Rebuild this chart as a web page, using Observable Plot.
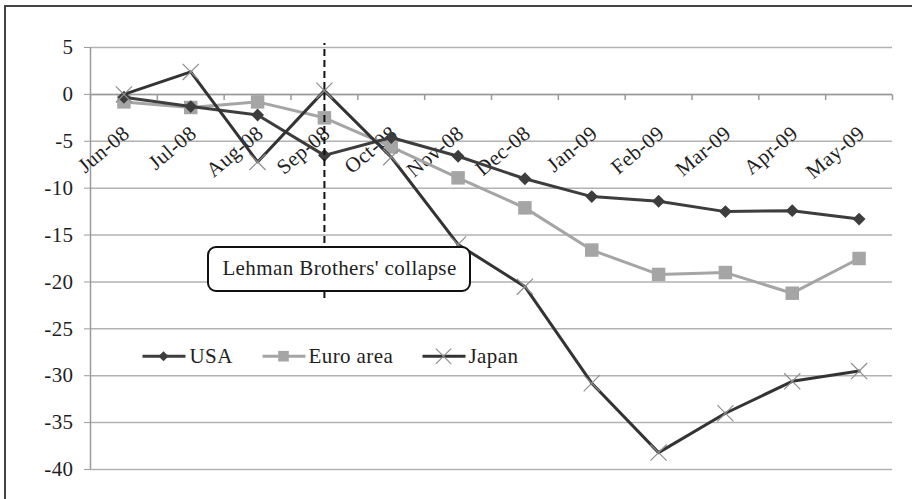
<!DOCTYPE html>
<html>
<head>
<meta charset="utf-8">
<script src="https://cdn.jsdelivr.net/npm/d3@7"></script>
<script src="https://cdn.jsdelivr.net/npm/@observablehq/plot@0.6"></script>
<style>
  html, body { margin: 0; padding: 0; background: #fff; }
  #wrap { position: relative; width: 912px; height: 499px; overflow: hidden; }
  #frame { position: absolute; left: 4px; top: 5px; right: -10px; bottom: -10px;
           border-left: 2px solid #454545; border-top: 2px solid #454545; pointer-events: none; }
  #wrap svg, #wrap svg text { font-family: "Liberation Serif", "DejaVu Serif", serif !important; letter-spacing: 0.4px; }
</style>
</head>
<body>
<div id="wrap"><div id="frame"></div></div>
<script>
const months = ["Jun-08","Jul-08","Aug-08","Sep-08","Oct-08","Nov-08","Dec-08","Jan-09","Feb-09","Mar-09","Apr-09","May-09"];
const usa   = [-0.3, -1.3, -2.2, -6.5, -4.6, -6.6, -9.0, -10.9, -11.4, -12.5, -12.4, -13.3];
const euro  = [-0.8, -1.4, -0.8, -2.5, -5.6, -8.9, -12.1, -16.6, -19.2, -19.0, -21.2, -17.5];
const japan = [0.0, 2.4, -7.2, 0.4, -6.7, -16.0, -20.5, -30.8, -38.2, -34.0, -30.6, -29.5];
const yTicks = [5, 0, -5, -10, -15, -20, -25, -30, -35, -40];
const seriesNames = ["USA", "Euro area", "Japan"];
const eventIndex = 3; // Sep-08
const eventLabel = "Lehman Brothers' collapse";

const W = 912, H = 499;
const mL = 90, mR = 20, mT = 47, mB = 30;
const xDom = [-0.5, months.length - 0.5], yDom = [-40, 5];
// pixel -> data helpers for annotation/legend layout
const px = p => xDom[0] + (p - mL) / ((W - mL - mR) / (xDom[1] - xDom[0]));
const py = p => yDom[1] - (p - mT) / ((H - mT - mB) / (yDom[1] - yDom[0]));

const rows = s => s.map((v, i) => ({i, v}));
const boundaries = d3.range(-0.5, months.length, 1);

const FONT = "Liberation Serif";
const FS = 21;
const cUSA = "#3d3d3d", cEuro = "#a5a5a5", cJapan = "#333333", cJapanMk = "#8e8e8e";

const legY = py(355.7);
const legend = [
  {name: seriesNames[0], x1: px(142), x2: px(185), xm: px(163), xt: px(189), stroke: cUSA},
  {name: seriesNames[1], x1: px(262), x2: px(305), xm: px(283), xt: px(308), stroke: cEuro},
  {name: seriesNames[2], x1: px(422), x2: px(465), xm: px(443), xt: px(468), stroke: cJapan}
];

const chart = Plot.plot({
  width: W, height: H,
  marginLeft: mL, marginRight: mR, marginTop: mT, marginBottom: mB,
  x: {domain: xDom, axis: null},
  y: {domain: yDom, axis: null},
  style: {fontFamily: FONT, fontSize: FS + "px", color: "#1e1e1e", background: "transparent"},
  marks: [
    Plot.gridY(yTicks, {stroke: "#b2b2b2", strokeOpacity: 1, strokeWidth: 1.5}),
    Plot.ruleX([xDom[0]], {y1: yDom[0], y2: yDom[1], stroke: "#9a9a9a", strokeWidth: 1.5}),
    Plot.axisY(yTicks, {label: null, tickSize: 6, tickPadding: 11, tickFormat: d => String(d), stroke: "#9a9a9a", fontSize: FS, fontFamily: FONT}),
    Plot.ruleY([0], {stroke: "#9a9a9a", strokeWidth: 1.5}),
    Plot.link(boundaries, {x1: d => d, x2: d => d, y1: 0, y2: -0.6, stroke: "#9a9a9a", strokeWidth: 1.5}),
    Plot.text(months, {x: (d, i) => i, y: 0, text: d => d, rotate: -40, textAnchor: "end", lineAnchor: "bottom", dx: 7, dy: 41, fontSize: FS, fontFamily: FONT, fill: "#1e1e1e"}),
    // series
    Plot.line(rows(euro), {x: "i", y: "v", stroke: cEuro, strokeWidth: 3}),
    Plot.dot(rows(euro), {x: "i", y: "v", symbol: "square", r: 7.6, fill: cEuro, stroke: "none"}),
    Plot.line(rows(usa), {x: "i", y: "v", stroke: cUSA, strokeWidth: 3}),
    Plot.dot(rows(usa), {x: "i", y: "v", symbol: "diamond2", r: 5.8, fill: cUSA, stroke: "none"}),
    Plot.line(rows(japan), {x: "i", y: "v", stroke: cJapan, strokeWidth: 3}),
    Plot.dot(rows(japan), {x: "i", y: "v", symbol: "times", r: 7.4, stroke: cJapanMk, strokeWidth: 1.2}),
    // event marker
    Plot.ruleX([eventIndex], {y1: py(298), y2: py(43), stroke: "#111", strokeWidth: 2, strokeDasharray: "7,4"}),
    Plot.rect([eventLabel], {x1: px(208), x2: px(470), y1: py(291), y2: py(247), rx: 8, fill: "white", stroke: "#111", strokeWidth: 2}),
    Plot.text([eventLabel], {x: px(339), y: py(268), text: d => d, fontSize: FS, fontFamily: FONT, fill: "#1e1e1e"}),
    // legend
    Plot.link(legend, {x1: "x1", x2: "x2", y1: legY, y2: legY, stroke: "stroke", strokeWidth: 3}),
    Plot.dot(legend.slice(0, 1), {x: "xm", y: legY, symbol: "diamond2", r: 4.5, fill: cUSA, stroke: "none"}),
    Plot.dot(legend.slice(1, 2), {x: "xm", y: legY, symbol: "square", r: 6, fill: cEuro, stroke: "none"}),
    Plot.dot(legend.slice(2, 3), {x: "xm", y: legY, symbol: "times", r: 7, stroke: cJapanMk, strokeWidth: 1.2}),
    Plot.text(legend, {x: "xt", y: legY, text: "name", textAnchor: "start", fontSize: FS, fontFamily: FONT, fill: "#1e1e1e"})
  ]
});
document.getElementById("wrap").prepend(chart);
</script>
</body>
</html>
